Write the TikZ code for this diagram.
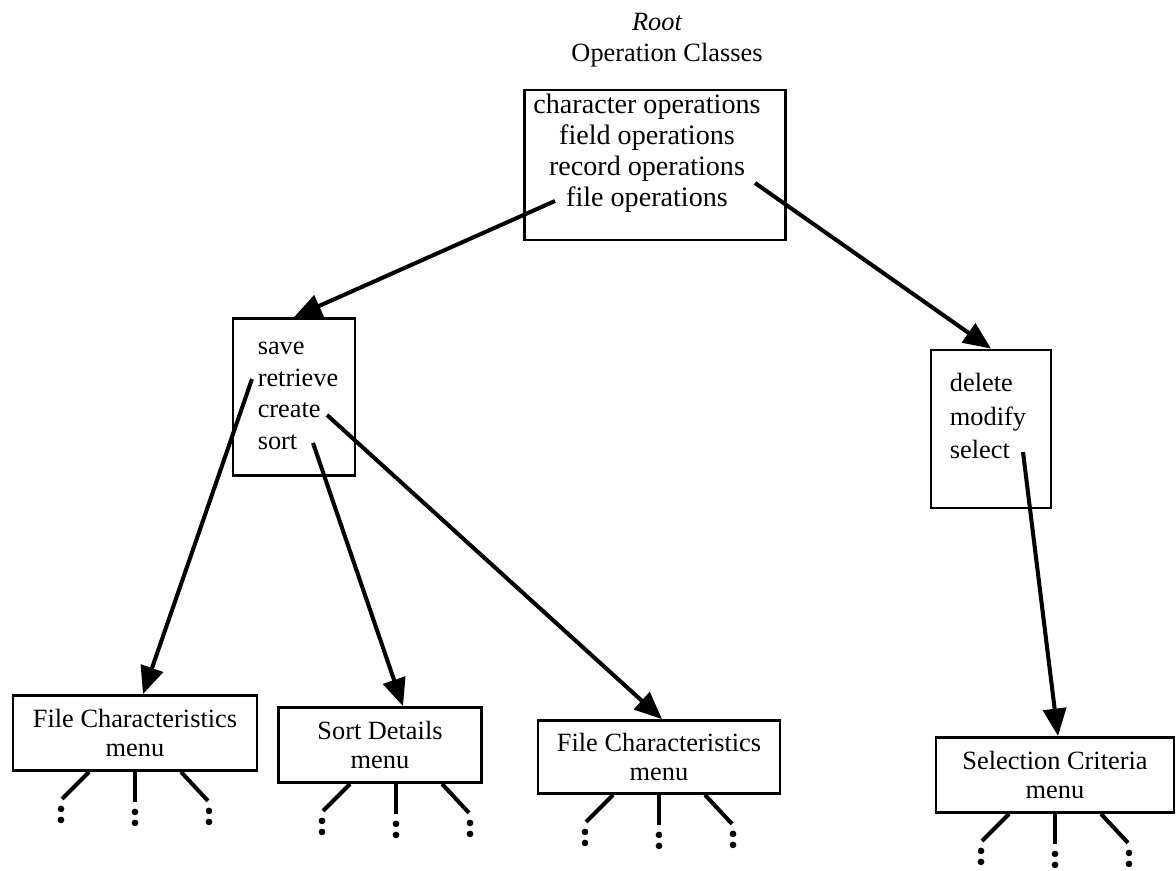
\documentclass[tikz,border=0pt]{standalone}
\usepackage{fontspec}
\setmainfont{Liberation Serif}
\usetikzlibrary{arrows.meta,positioning}

\tikzset{
  legs/.pic={
    \draw[leg] (-46,0) -- (-73,27);
    \draw[leg] (0,0) -- (0,30);
    \draw[leg] (46,0) -- (73,29);
    \foreach \x/\y in {-74/27,0/30,74/29}{
      \fill (\x,\y+10) circle[radius=1.9pt];
      \fill (\x,\y+21) circle[radius=1.9pt];
    }
  }
}

\begin{document}
\begin{tikzpicture}[x=0.02cm,y=-0.02cm,
  box/.style={draw,line width=1.6pt,inner sep=0pt},
  listtext/.style={align=left,inner sep=0pt,font=\fontsize{15}{#1}\selectfont},
  listtext/.default=17.6,
  menubox/.style={box,align=center,minimum height=1.5cm,font=\fontsize{15}{16.5}\selectfont},
  title/.style={inner sep=0pt,font=\fontsize{15}{17}\selectfont},
  link/.style={-{Triangle[length=0.55cm,width=0.46cm]},line width=2.3pt},
  leg/.style={line width=2.3pt}]
\useasboundingbox (0,0) rectangle (1176,871);

% root
\node[title] (rootlabel) at (657,22) {\itshape Root};
\node[title] (rootname) at (667,55) {Operation Classes};
\node[box,minimum width=5.22cm,minimum height=3.0cm] (opbox) at (655,165) {};
\node[listtext,align=center,font=\fontsize{16}{17.6}\selectfont] (optext) at (647,153) {character operations\\field operations\\record operations\\file operations};

% second level
\node[box,minimum width=2.44cm,minimum height=3.14cm] (filebox) at (294,397) {};
\node[listtext=17.9] (filetext) at (298,396) {save\\retrieve\\create\\sort};
\node[box,minimum width=2.4cm,minimum height=3.16cm] (recbox) at (991,429) {};
\node[listtext=19.3] (rectext) at (988,416) {delete\\modify\\select};

% menus
\node[menubox,minimum width=4.88cm] (menuA) at (135,733) {File Characteristics\\menu};
\node[menubox,minimum width=4.06cm] (menuB) at (380,745) {Sort Details\\menu};
\node[menubox,minimum width=4.84cm,minimum height=1.46cm] (menuC) at (659,757) {File Characteristics\\menu};
\node[menubox,minimum width=4.76cm] (menuD) at (1055,775) {Selection Criteria\\menu};

% arrow starts
\coordinate (fromfile) at (555,201);
\coordinate (fromrecord) at (755,183);
\coordinate (fromretrieve) at (252,379);
\coordinate (fromcreate) at (327,415);
\coordinate (fromsort) at (313,443);
\coordinate (fromselect) at (1023,452);

\draw[link] (fromfile) -- (filebox.north);
\draw[link] (fromrecord) -- (recbox.north);
\draw[link] (fromretrieve) -- ([xshift=0.16cm]menuA.north);
\draw[link] (fromsort) -- ([xshift=0.46cm]menuB.north);
\draw[link] (fromcreate) -- ([xshift=0.06cm]menuC.north);
\draw[link] (fromselect) -- ([xshift=0.06cm]menuD.north);

% continuation legs
\pic at (menuA.south) {legs};
\pic at ([xshift=0.32cm]menuB.south) {legs};
\pic at (menuC.south) {legs};
\pic at (menuD.south) {legs};
\end{tikzpicture}
\end{document}
